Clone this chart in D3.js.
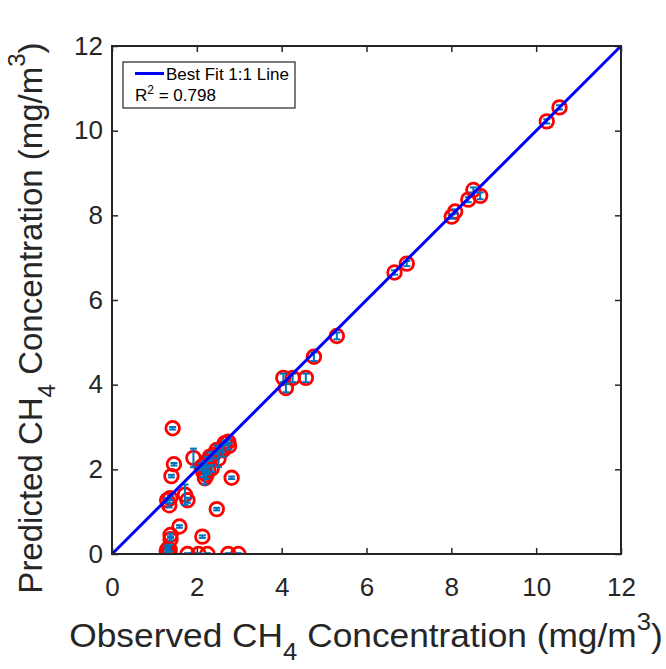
<!DOCTYPE html>
<html>
<head>
<meta charset="utf-8">
<script src="https://cdn.jsdelivr.net/npm/d3@7"></script>
<style>
  body { margin: 0; background: #fff; }
  svg { display: block; font-family: Arial, "Liberation Sans", sans-serif; }
</style>
</head>
<body>
<svg id="chart"></svg>
<script>
// observed vs predicted CH4 (mg/m3), error = half-length of the blue bar
const observed = [
  10.55, 10.25, 8.68, 8.52, 8.40, 8.09, 8.01, 6.95, 6.66, 5.30,
  4.76, 4.04, 4.26, 4.57, 4.10,
  1.43, 1.46, 1.40, 1.92, 2.82, 1.30, 1.37, 1.35, 1.72, 1.78,
  2.47, 1.59, 1.38, 1.38, 2.13,
  1.78, 2.04, 2.25, 2.74, 2.98,
  1.30, 1.33, 1.36, 1.32, 1.35, 1.29,
  2.66, 2.59, 2.47, 2.39, 2.31, 2.23, 2.17, 2.11, 2.15, 2.23,
  2.27, 2.35, 2.19, 2.51, 2.62, 2.74, 2.76
];
const predicted = [
  10.55, 10.22, 8.46, 8.60, 8.37, 8.09, 7.97, 6.86, 6.65, 5.15,
  4.66, 4.16, 4.16, 4.16, 3.92,
  2.97, 2.12, 1.84, 2.27, 1.80, 1.27, 1.32, 1.15, 1.40, 1.27,
  1.06, 0.65, 0.45, 0.35, 0.41,
  0, 0, 0, 0, 0,
  0.00, 0.05, 0.10, 0.12, 0.02, 0.08,
  2.62, 2.50, 2.46, 2.34, 2.30, 2.18, 2.10, 2.06, 1.94, 1.87,
  1.98, 2.02, 1.79, 2.25, 2.45, 2.65, 2.55
];
const errors = [
  0.05, 0.05, 0.08, 0.06, 0.06, 0.05, 0.05, 0.06, 0.05, 0.08,
  0.10, 0.10, 0.10, 0.10, 0.10,
  0.03, 0.03, 0.03, 0.22, 0.03, 0.05, 0.05, 0.05, 0.24, 0.06,
  0.03, 0.03, 0.03, 0.03, 0.03,
  0.02, 0.02, 0.02, 0.02, 0.02,
  0.10, 0.10, 0.12, 0.08, 0.05, 0.10,
  0.06, 0.08, 0.10, 0.08, 0.10, 0.12, 0.10, 0.08, 0.12, 0.10,
  0.10, 0.08, 0.15, 0.20, 0.15, 0.06, 0.08
];
const axisTicks = [0, 2, 4, 6, 8, 10, 12];
const fitLine = [0, 12];
const legendLabel = 'Best Fit 1:1 Line';
const r2Value = '0.798';

class FitScatter {

  constructor(_config, _data) {
    this.config = {
      parentElement: _config.parentElement,
      containerWidth: _config.containerWidth || 666,
      containerHeight: _config.containerHeight || 669,
      margin: _config.margin || {top: 46, right: 45, bottom: 115, left: 112},
      markerRadius: 6.8,
      capHalf: 3.5
    };
    this.data = _data;
    this.initVis();
  }

  initVis() {
    let vis = this;

    vis.width = vis.config.containerWidth - vis.config.margin.left - vis.config.margin.right;
    vis.height = vis.config.containerHeight - vis.config.margin.top - vis.config.margin.bottom;

    vis.svg = d3.select(vis.config.parentElement)
        .attr('width', vis.config.containerWidth)
        .attr('height', vis.config.containerHeight);

    vis.chart = vis.svg.append('g')
        .attr('transform', `translate(${vis.config.margin.left},${vis.config.margin.top})`);

    vis.xScale = d3.scaleLinear().domain([0, 12]).range([0, vis.width]);
    vis.yScale = d3.scaleLinear().domain([0, 12]).range([vis.height, 0]);

    vis.svg.append('defs').append('clipPath')
        .attr('id', 'plot-clip')
      .append('rect')
        .attr('width', vis.width)
        .attr('height', vis.height);

    vis.updateVis();
  }

  updateVis() {
    let vis = this;
    vis.renderVis();
  }

  renderVis() {
    let vis = this;
    const x = vis.xScale, y = vis.yScale;

    // axes, ticks pointing inward on all four sides
    const styleAxis = g => {
      g.select('.domain').remove();
      g.selectAll('.tick line').attr('stroke', '#262626').attr('stroke-width', 1.5);
      g.selectAll('.tick text').attr('fill', '#262626').attr('font-size', 26);
    };

    vis.chart.append('g')
        .attr('transform', `translate(0,${vis.height})`)
        .call(d3.axisBottom(x).tickValues(axisTicks).tickSize(-6).tickPadding(24))
        .call(styleAxis);
    vis.chart.append('g')
        .call(d3.axisLeft(y).tickValues(axisTicks).tickSize(-6).tickPadding(9))
        .call(styleAxis);
    vis.chart.append('g')
        .call(d3.axisTop(x).tickValues(axisTicks).tickSize(-6).tickFormat(''))
        .call(styleAxis);
    vis.chart.append('g')
        .attr('transform', `translate(${vis.width},0)`)
        .call(d3.axisRight(y).tickValues(axisTicks).tickSize(-6).tickFormat(''))
        .call(styleAxis);

    const plot = vis.chart.append('g').attr('clip-path', 'url(#plot-clip)');

    // red circle markers
    plot.selectAll('.marker')
        .data(vis.data)
      .join('circle')
        .attr('class', 'marker')
        .attr('cx', d => x(d.obs))
        .attr('cy', d => y(d.pred))
        .attr('r', vis.config.markerRadius)
        .attr('fill', 'none')
        .attr('stroke', '#ff0000')
        .attr('stroke-width', 2.8);

    // blue error bars
    const bars = plot.selectAll('.errbar')
        .data(vis.data)
      .join('g')
        .attr('class', 'errbar')
        .attr('stroke', '#0072BD')
        .attr('stroke-width', 2);
    bars.append('line')
        .attr('x1', d => x(d.obs)).attr('x2', d => x(d.obs))
        .attr('y1', d => y(d.pred - d.err)).attr('y2', d => y(d.pred + d.err));
    bars.append('line')
        .attr('x1', d => x(d.obs) - vis.config.capHalf).attr('x2', d => x(d.obs) + vis.config.capHalf)
        .attr('y1', d => y(d.pred - d.err)).attr('y2', d => y(d.pred - d.err));
    bars.append('line')
        .attr('x1', d => x(d.obs) - vis.config.capHalf).attr('x2', d => x(d.obs) + vis.config.capHalf)
        .attr('y1', d => y(d.pred + d.err)).attr('y2', d => y(d.pred + d.err));

    // 1:1 line
    plot.append('line')
        .attr('x1', x(fitLine[0])).attr('y1', y(fitLine[0]))
        .attr('x2', x(fitLine[1])).attr('y2', y(fitLine[1]))
        .attr('stroke', '#0000ff')
        .attr('stroke-width', 3);

    // box
    vis.chart.append('rect')
        .attr('width', vis.width)
        .attr('height', vis.height)
        .attr('fill', 'none')
        .attr('stroke', '#262626')
        .attr('stroke-width', 2);

    vis.renderLegend();
    vis.renderLabels();
  }

  renderLegend() {
    let vis = this;
    const lg = vis.chart.append('g').attr('transform', 'translate(11,16)');

    lg.append('rect')
        .attr('width', 172)
        .attr('height', 46)
        .attr('fill', '#fff')
        .attr('stroke', '#262626')
        .attr('stroke-width', 1.2);
    lg.append('line')
        .attr('x1', 12).attr('x2', 41)
        .attr('y1', 11.5).attr('y2', 11.5)
        .attr('stroke', '#0000ff')
        .attr('stroke-width', 3);
    lg.append('text')
        .attr('x', 43)
        .attr('y', 18)
        .attr('font-size', 17)
        .attr('fill', '#000')
        .text(legendLabel);
    const r2 = lg.append('text')
        .attr('x', 12)
        .attr('y', 39)
        .attr('font-size', 17)
        .attr('fill', '#000');
    r2.append('tspan').text('R');
    r2.append('tspan').attr('font-size', 12).attr('dy', -7).text('2');
    r2.append('tspan').attr('dy', 7).text(` = ${r2Value}`);
  }

  renderLabels() {
    let vis = this;

    const addLabel = (sel, first) => {
      sel.append('tspan').text(first + ' CH');
      sel.append('tspan').attr('font-size', 24).attr('dy', 13).text('4');
      sel.append('tspan').attr('dy', -13).text(' Concentration (mg/m');
      sel.append('tspan').attr('font-size', 24).attr('dy', -17).text('3');
      sel.append('tspan').attr('dy', 17).text(')');
    };

    // the reference looks a little stretched sideways
    const xl = vis.svg.append('text')
        .attr('transform', 'translate(366,647) scale(1.07,1)')
        .attr('text-anchor', 'middle')
        .attr('font-size', 33)
        .attr('fill', '#262626');
    addLabel(xl, 'Observed');

    const yl = vis.svg.append('text')
        .attr('transform', 'translate(42,318) rotate(-90)')
        .attr('text-anchor', 'middle')
        .attr('font-size', 33)
        .attr('fill', '#262626');
    addLabel(yl, 'Predicted');
  }
}

const points = observed.map((d, i) => ({obs: d, pred: predicted[i], err: errors[i]}));

const scatter = new FitScatter({
  parentElement: '#chart',
  containerWidth: 666,
  containerHeight: 669,
  margin: {top: 46, right: 45, bottom: 115, left: 112}
}, points);
</script>
</body>
</html>
